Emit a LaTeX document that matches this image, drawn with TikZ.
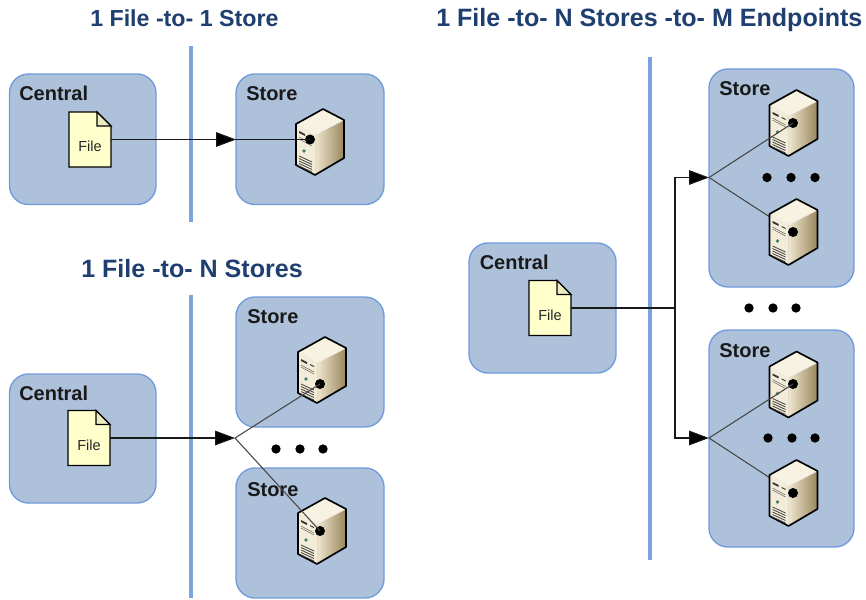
\documentclass[tikz,border=0pt]{standalone}
\usepackage{fontspec}
\setmainfont{Liberation Sans}
\usetikzlibrary{arrows.meta}
\definecolor{boxfill}{HTML}{AEC1DB}
\definecolor{boxline}{HTML}{6F9BDC}
\definecolor{divider}{HTML}{7BA3E0}
\definecolor{titleblue}{HTML}{1E3F6F}
\definecolor{filefill}{HTML}{FFFFCC}
\definecolor{srvtop}{HTML}{F7F2E2}
\definecolor{srvleft}{HTML}{F3ECD9}
\definecolor{srvlight}{HTML}{EFE6CE}
\definecolor{srvdark}{HTML}{9A865E}
\definecolor{ledgreen}{HTML}{3F7F6F}
\tikzset{
  x=0.75pt,y=-0.75pt,
  panel/.style={draw=boxline,fill=boxfill,line width=1pt,rounded corners=14.25pt},
  dividerline/.style={draw=divider,line width=3pt},
  heading/.style={anchor=base west,inner sep=0pt,text=titleblue,font=\bfseries\fontsize{18.8pt}{20pt}\selectfont},
  headingsmall/.style={heading,font=\bfseries\fontsize{17.4pt}{20pt}\selectfont},
  boxlabel/.style={anchor=base west,inner sep=0pt,text=black!90,font=\bfseries\fontsize{15pt}{17pt}\selectfont},
  conn/.style={draw=black!90,line width=0.8pt},
  diag/.style={draw=black!72,line width=0.8pt},
  tip/.style={-{Triangle[length=15pt,width=11pt,fill=black]}},
  blob/.style={circle,fill=black,inner sep=0pt,minimum size=7pt},
  portdot/.style={circle,fill=black,inner sep=0pt,minimum size=7.5pt},
  filedoc/.pic={
    \node[minimum width=31.5pt,minimum height=41.25pt,inner sep=0pt] (body) at (0,0) {};
    \draw[fill=filefill,line width=1pt,line join=miter] (-21,-27.5) -- (7,-27.5) -- (21,-13.5) -- (21,27.5) -- (-21,27.5) -- cycle;
    \draw[fill=filefill!75!gray!60!filefill,line width=0.9pt] (7,-27.5) -- (7,-13.5) -- (21,-13.5) -- cycle;
    \node[inner sep=0pt,font=\fontsize{10.9pt}{12pt}\selectfont,text=black!85] (txt) at (0,7) {File};
  },
  serverpic/.pic={
    \fill[srvtop] (-24,-18) -- (3,-33) -- (24,-22) -- (-5,-7) -- cycle;
    \fill[srvleft] (-24,-18) -- (-5,-7) -- (-5,33) -- (-24,23) -- cycle;
    \shade[left color=srvlight,right color=srvdark] (-5,-7) -- (24,-22) -- (24,16) -- (-5,33) -- cycle;
    \draw[line width=0.45pt,draw=white!85!srvdark] (-5,-7) -- (24,-22);
    \draw[line width=0.3pt,draw=white!70!srvdark] (-5,-7) -- (-5,33);
    \draw[line width=1.25pt,line join=round] (-24,-18) -- (3,-33) -- (24,-22) -- (24,16) -- (-5,33) -- (-24,23) -- cycle;
    \fill[black!80] (-21,-11) -- (-15,-8) -- (-15,-6) -- (-21,-9) -- cycle;
    \fill[black!80] (-12,-6) -- (-8,-4) -- (-8,-3) -- (-12,-5) -- cycle;
    \draw[line width=0.35pt,black!65] (-21,-5) -- (-8,2);
    \draw[line width=0.35pt,black!65] (-21,-3) -- (-8,4);
    \fill[ledgreen] (-16,9) circle[radius=1.8];
    \foreach \g in {14,16.5,19,21.5,24}{
      \draw[line width=0.6pt,black!75] (-21,\g) -- (-8,\g+6);
    }
  }
}
\begin{document}
\begin{tikzpicture}
\useasboundingbox[fill=white] (0,0) rectangle (866,599);

% dividers
\coordinate (d1a) at (191,46);  \coordinate (d1b) at (191,222);
\coordinate (d2a) at (191,295); \coordinate (d2b) at (191,598);
\coordinate (d3a) at (650,57);  \coordinate (d3b) at (650,560);
\draw[dividerline] (d1a) -- (d1b);
\draw[dividerline] (d2a) -- (d2b);
\draw[dividerline] (d3a) -- (d3b);

% panels
\draw[panel] (9.5,74) rectangle (156,204.5);
\draw[panel] (236,74) rectangle (384,204.5);
\draw[panel] (9.5,374) rectangle (156,503);
\draw[panel] (236,297) rectangle (384,427);
\draw[panel] (236,468) rectangle (384,598);
\draw[panel] (469,243) rectangle (616,373);
\draw[panel] (709,69) rectangle (854,287);
\draw[panel] (709,330) rectangle (854,547);

% headings
\node[headingsmall] (t1) at (90,27) {1 File -to- 1 Store};
\node[heading] (t2) at (81,277) {1 File -to- N Stores};
\node[heading] (t3) at (436,27) {1 File -to- N Stores -to- M Endpoints};

% panel labels
\node[boxlabel] (c1) at (19,100.5) {Central};
\node[boxlabel] (c2) at (19,400) {Central};
\node[boxlabel] (c3) at (479.5,269) {Central};
\node[boxlabel] (l1) at (246,100.5) {Store};
\node[boxlabel] (l2) at (247,323) {Store};
\node[boxlabel] (l3) at (247,496) {Store};
\node[boxlabel] (l4) at (719,96) {Store};
\node[boxlabel] (l5) at (719,357) {Store};

% files
\pic (f1) at (90,139.5) {filedoc};
\pic (f2) at (89,438) {filedoc};
\pic (f3) at (550,308) {filedoc};

% junctions
\coordinate (j1) at (236,139.5);
\coordinate (j2) at (235,438);
\coordinate (bus) at (675,308);
\coordinate (j3) at (709,177.5);
\coordinate (j4) at (709,438);

% connectors that run behind a server
\node[portdot] (p6) at (793,232) {};
\node[portdot] (p8) at (793,493) {};
\draw[diag] (j3) -- (p6.center);
\draw[diag] (j4) -- (p8.center);

% servers
\pic at (320,142) {serverpic};
\pic at (322,370) {serverpic};
\pic at (322,531) {serverpic};
\pic at (793.5,123) {serverpic};
\pic at (793.5,232) {serverpic};
\pic at (793.5,384.5) {serverpic};
\pic at (793.5,493) {serverpic};

% port dots on the servers
\node[portdot] (p1) at (310,139.5) {};
\node[portdot] (p2) at (320,384) {};
\node[portdot] (p3) at (320,531) {};
\node[portdot] (p5) at (793,123) {};
\node[portdot] (p7) at (793,384) {};
\node[portdot] (p6top) at (p6) {};
\node[portdot] (p8top) at (p8) {};

% connectors
\draw[conn] (f1body.east) -- (p1.center);
\draw[conn,tip] (f1body.east) -- (j1);
\draw[conn,tip] (f2body.east) -- (j2);
\draw[diag] (j2) -- (p2.center);
\draw[diag] (j2) -- (p3.center);
\draw[conn] (f3body.east) -- (bus);
\draw[conn,tip] (bus) |- (j3);
\draw[conn,tip] (bus) |- (j4);
\draw[diag] (j3) -- (p5.center);
\draw[diag] (j4) -- (p7.center);

% ellipses
\foreach \n/\px/\py in {a/276/449,b/300/449,c/323/449,
                        d/767/177.5,e/791/177.5,f/815/177.5,
                        g/749/308,h/773/308,i/796/308,
                        k/768/438,m/792/438,o/815/438}{
  \node[blob] (dot\n) at (\px,\py) {};
}
\end{tikzpicture}
\end{document}
